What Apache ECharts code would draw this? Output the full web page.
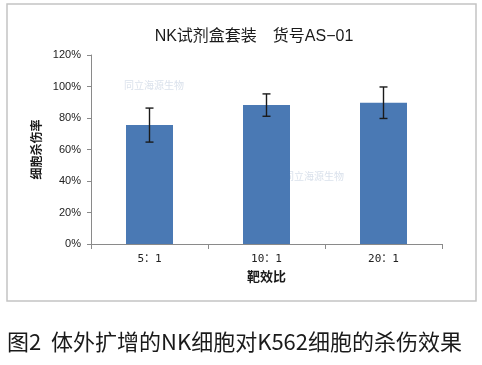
<!DOCTYPE html>
<html>
<head>
<meta charset="utf-8">
<script src="https://cdn.jsdelivr.net/npm/echarts@6/dist/echarts.min.js"></script>
<style>
html,body{margin:0;padding:0;background:#fff;}
#c{width:482px;height:365px;}
</style>
</head>
<body>
<div id="c"></div>
<script>
var categories = ['5：1', '10：1', '20：1'];
var values = [75.5, 88.2, 89.7];
var errors = [10.8, 7.1, 10.0];
var yTicks = [0, 20, 40, 60, 80, 100, 120];
var titleText = 'NK试剂盒套装　货号AS−01';
var xName = '靶效比';
var yName = '细胞杀伤率';
var captionText = '图2  体外扩增的NK细胞对K562细胞的杀伤效果';

var errData = values.map(function (v, i) { return [i, v - errors[i], v + errors[i]]; });

var chart = echarts.init(document.getElementById('c'), null, {renderer: 'canvas'});
chart.setOption({
  animation: false,
  backgroundColor: '#ffffff',
  title: {
    text: titleText,
    left: 249, top: 24, textAlign: 'center',
    textStyle: {fontSize: 16, fontWeight: 'normal', color: '#1a1a1a', fontFamily: 'Liberation Sans, Noto Sans CJK SC, sans-serif'}
  },
  grid: {left: 91, top: 55, right: 40, bottom: 121, containLabel: false},
  xAxis: {
    type: 'category',
    data: categories,
    name: xName,
    nameLocation: 'middle',
    nameGap: 22,
    nameTextStyle: {fontSize: 13, fontWeight: 'bold', color: '#1a1a1a', fontFamily: 'Noto Sans CJK SC, sans-serif'},
    axisLine: {lineStyle: {color: '#8a8a8a', width: 1}},
    axisTick: {show: true, alignWithLabel: false, length: 5, lineStyle: {color: '#8a8a8a'}},
    axisLabel: {margin: 10, fontSize: 11, color: '#222', fontFamily: 'DejaVu Sans Mono, Noto Sans CJK SC, monospace'}
  },
  yAxis: {
    type: 'value',
    min: yTicks[0], max: yTicks[yTicks.length - 1], interval: yTicks[1] - yTicks[0],
    name: yName,
    nameLocation: 'middle',
    nameGap: 44,
    nameTextStyle: {fontSize: 12, fontWeight: 'bold', color: '#1a1a1a', fontFamily: 'Noto Sans CJK SC, sans-serif'},
    axisLine: {show: true, lineStyle: {color: '#8a8a8a', width: 1}},
    axisTick: {show: true, length: 4, lineStyle: {color: '#8a8a8a'}},
    splitLine: {show: false},
    axisLabel: {formatter: '{value}%', margin: 10, fontSize: 11, color: '#222', fontFamily: 'Liberation Sans, sans-serif'}
  },
  series: [
    {
      type: 'bar',
      data: values,
      barWidth: 47,
      itemStyle: {color: '#4a79b4'},
      z: 2
    },
    {
      type: 'custom',
      data: errData,
      z: 5,
      renderItem: function (params, api) {
        var x = api.value(0);
        var lo = api.coord([x, api.value(1)]);
        var hi = api.coord([x, api.value(2)]);
        var half = 4;
        var st = {stroke: '#1a1a1a', lineWidth: 1.4};
        return {
          type: 'group',
          children: [
            {type: 'line', shape: {x1: hi[0], y1: hi[1], x2: lo[0], y2: lo[1]}, style: st},
            {type: 'line', shape: {x1: hi[0] - half, y1: hi[1], x2: hi[0] + half, y2: hi[1]}, style: st},
            {type: 'line', shape: {x1: lo[0] - half, y1: lo[1], x2: lo[0] + half, y2: lo[1]}, style: st}
          ]
        };
      }
    }
  ],
  graphic: [
    {type: 'rect', shape: {x: 7, y: 4, width: 469, height: 297}, style: {fill: null, stroke: '#c4c4c4', lineWidth: 1.5}, z: 0, silent: true},
    {type: 'text', left: 124, top: 80, style: {text: '同立海源生物', fill: '#dbe2ec', font: '10px Noto Sans CJK SC'}, z: 1},
    {type: 'text', left: 284, top: 171, style: {text: '同立海源生物', fill: '#dbe2ec', font: '10px Noto Sans CJK SC'}, z: 1},
    {type: 'text', left: 7, top: 331, style: {text: captionText, font: '22px Noto Sans CJK SC, sans-serif', fill: '#1a1a1a'}}
  ]
});
</script>
</body>
</html>
